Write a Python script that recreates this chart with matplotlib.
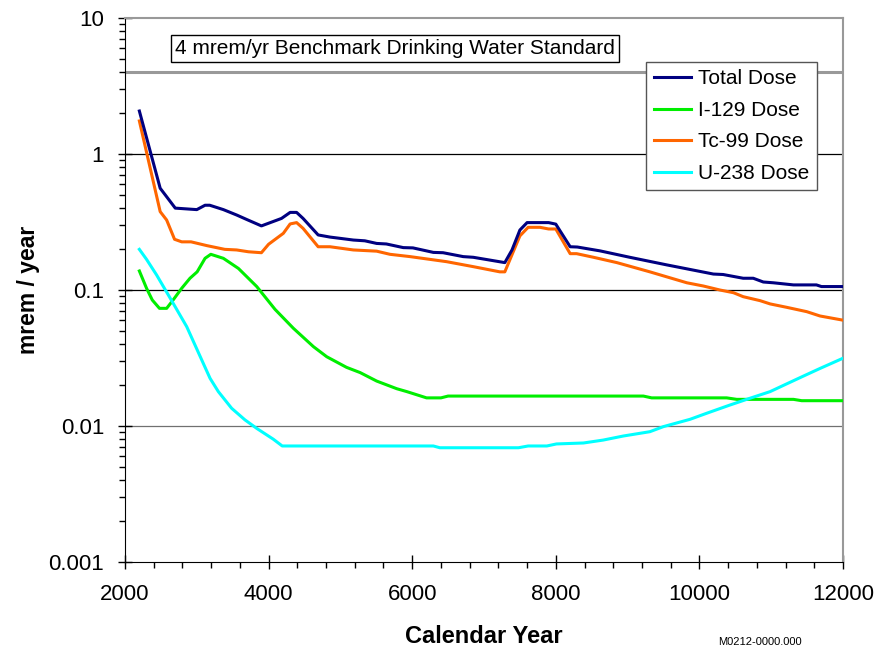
import numpy as np
import matplotlib.pyplot as plt
from matplotlib.ticker import FixedLocator, LogLocator, NullFormatter, FixedFormatter

plt.rcParams['font.family'] = ['Liberation Sans', 'DejaVu Sans']

# Values
total_year = [2200, 2490, 2580, 2700, 3000, 3115, 3180, 3370, 3555, 3695, 3900, 4180,
              4300, 4390, 4480, 4690, 4855, 4990, 5180, 5340, 5505, 5640, 5875, 6010,
              6295, 6430, 6710, 6850, 7080, 7290, 7390, 7500, 7600, 7900, 8000, 8200,
              8300, 8615, 9030, 9545, 10195, 10330, 10610, 10750, 10890, 11030, 11310,
              11630, 11700, 12000]
total_dose = [2.07, 0.56, 0.485, 0.40, 0.39, 0.42, 0.42, 0.39, 0.356, 0.33, 0.296, 0.336,
              0.372, 0.372, 0.336, 0.254, 0.245, 0.24, 0.233, 0.23, 0.22, 0.218, 0.205, 0.204,
              0.189, 0.188, 0.176, 0.174, 0.166, 0.159, 0.197, 0.276, 0.313, 0.313, 0.305, 0.208,
              0.207, 0.194, 0.174, 0.153, 0.131, 0.130, 0.122, 0.122, 0.1145, 0.113, 0.109,
              0.109, 0.106, 0.106]

tc_year = [2200, 2490, 2580, 2690, 2790, 2920, 3140, 3390, 3555, 3720, 3900, 4000,
           4205, 4300, 4390, 4480, 4690, 4855, 5180, 5505, 5690, 5970, 6480, 6850,
           7220, 7290, 7500, 7615, 7780, 7900, 8000, 8200, 8290, 8525, 8850, 9310,
           9500, 9825, 10055, 10285, 10475, 10610, 10845, 10985, 11215, 11495, 11680, 12000]
tc_dose = [1.75, 0.377, 0.327, 0.236, 0.226, 0.226, 0.212, 0.199, 0.197, 0.191, 0.188, 0.217,
           0.261, 0.306, 0.313, 0.284, 0.208, 0.208, 0.197, 0.193, 0.183, 0.176, 0.1615, 0.1485,
           0.136, 0.136, 0.25, 0.289, 0.289, 0.281, 0.281, 0.185, 0.185, 0.174, 0.159, 0.136,
           0.127, 0.113, 0.107, 0.100, 0.0955, 0.0893, 0.0835, 0.079, 0.0746, 0.0693, 0.0644, 0.0600]

i129_year = [2200, 2300, 2380, 2480, 2580, 2670, 2790, 2905, 3005, 3115, 3195, 3370,
             3580, 3835, 4090, 4345, 4625, 4810, 5085, 5275, 5505, 5785, 5925, 6200,
             6400, 6500, 9220, 9335, 10380, 10520, 11310, 11425, 12000]
i129_dose = [0.138, 0.103, 0.0844, 0.0733, 0.0733, 0.0844, 0.103, 0.122, 0.136, 0.171, 0.183,
             0.171, 0.144, 0.106, 0.072, 0.0523, 0.0383, 0.0323, 0.027, 0.0247, 0.0214, 0.0188,
             0.0179, 0.0161, 0.0161, 0.0166, 0.0166, 0.0161, 0.0161, 0.0157, 0.0157, 0.01535,
             0.01535]

u238_year = [2200, 2300, 2440, 2630, 2860, 3090, 3185, 3300, 3485, 3670, 3835, 4065,
             4190, 6295, 6385, 7480, 7615, 7875, 8010, 8385, 8660, 8940, 9310, 9500,
             9870, 10100, 10425, 10705, 10985, 11215, 11450, 11680, 12000]
u238_dose = [0.199, 0.168, 0.129, 0.087, 0.0537, 0.0289, 0.0224, 0.0179, 0.0135, 0.0111,
             0.0096, 0.0080, 0.00713, 0.00713, 0.00692, 0.00692, 0.00713, 0.00713, 0.00738,
             0.0075, 0.00788, 0.00844, 0.00908, 0.0099, 0.0112, 0.0124, 0.01426, 0.0160,
             0.0179, 0.0204, 0.0233, 0.0265, 0.0315]

benchmark = 4.0

fig = plt.figure(figsize=(8.81, 6.48), dpi=100)
ax = fig.add_axes([125 / 881, 1 - 562 / 648, 718 / 881, 544 / 648])

ax.set_yscale('log')
ax.set_xlim(2000, 12000)
ax.set_ylim(0.001, 10)

# horizontal gridlines at 0.1 and 1, lighter one at 0.01
ax.axhline(1, color='black', lw=0.9, zorder=1)
ax.axhline(0.1, color='black', lw=0.9, zorder=1)
ax.axhline(0.01, color='#707070', lw=0.9, zorder=1)
ax.axhline(benchmark, color='#999999', lw=2.2, zorder=1)

ax.plot(total_year, total_dose, color='#000080', lw=2.2, label='Total Dose', zorder=3)
ax.plot(i129_year, i129_dose, color='#00ee00', lw=2.2, label='I-129 Dose', zorder=3)
ax.plot(tc_year, tc_dose, color='#ff6600', lw=2.2, label='Tc-99 Dose', zorder=2.9)
ax.plot(u238_year, u238_dose, color='#00ffff', lw=2.2, label='U-238 Dose', zorder=3)

ax.text(2700, 6.0, '4 mrem/yr Benchmark Drinking Water Standard', fontsize=15,
        va='center', ha='left', zorder=4,
        bbox=dict(boxstyle='square,pad=0.2', fc='white', ec='black', lw=1))

leg = ax.legend(loc='upper right', bbox_to_anchor=(817 / 881, 1 - 62 / 648),
                bbox_transform=fig.transFigure, fontsize=15, frameon=True,
                fancybox=False, framealpha=1, handlelength=1.8, handletextpad=0.35,
                labelspacing=0.6, borderpad=0.35, borderaxespad=0)
leg.get_frame().set_edgecolor('#555555')
leg.get_frame().set_linewidth(1)

# spines
ax.spines['top'].set_color('#999999')
ax.spines['right'].set_color('#999999')
ax.spines['top'].set_linewidth(1.5)
ax.spines['right'].set_linewidth(1.5)

ax.xaxis.set_major_locator(FixedLocator([2000, 4000, 6000, 8000, 10000, 12000]))
ax.xaxis.set_minor_locator(FixedLocator(np.arange(2000, 12001, 400)))
ax.set_yticks([0.001, 0.01, 0.1, 1, 10])
ax.yaxis.set_major_formatter(FixedFormatter(['0.001', '0.01', '0.1', '1', '10']))
ax.yaxis.set_minor_locator(LogLocator(base=10, subs=np.arange(2, 10)))
ax.yaxis.set_minor_formatter(NullFormatter())

ax.tick_params(axis='both', which='major', direction='inout', length=10, width=1,
               labelsize=16)
ax.tick_params(axis='x', which='major', pad=11)
ax.tick_params(axis='y', which='major', pad=10)
ax.tick_params(axis='both', which='minor', direction='out', length=4, width=1)
ax.tick_params(top=False, right=False, which='both')

ax.set_xlabel('Calendar Year', fontsize=17, fontweight='bold', labelpad=14)
ax.set_ylabel('mrem / year', fontsize=16.5, fontweight='bold', labelpad=6)

fig.text(718 / 881, 1 / 648, 'M0212-0000.000', fontsize=8, ha='left', va='bottom')

fig.savefig('out.png', dpi=100)
